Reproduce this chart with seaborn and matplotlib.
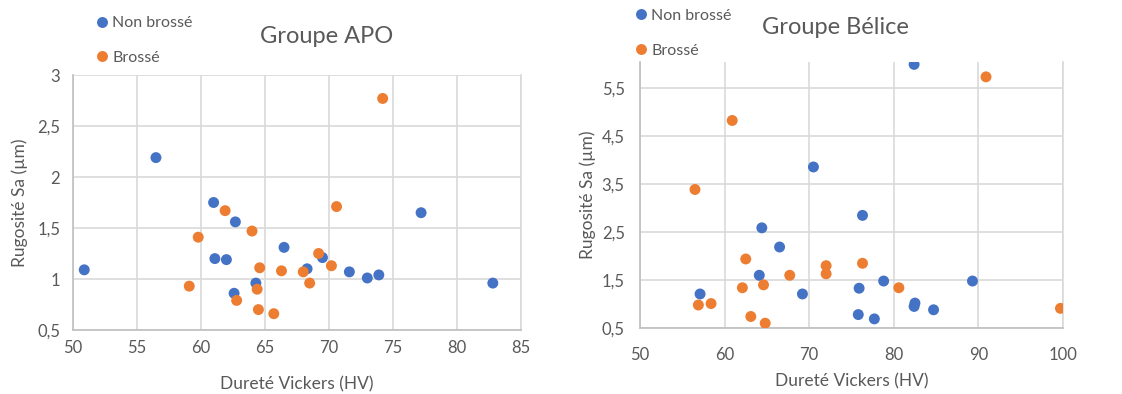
import matplotlib
matplotlib.use("Agg")
import matplotlib.pyplot as plt
import seaborn as sns
import pandas as pd

# ---------------- data ----------------
apo_non_x = [50.9, 56.5, 61.0, 62.7, 61.1, 62.0, 66.5, 64.3, 62.6, 68.3, 69.5, 71.6, 73.0, 73.9, 77.2, 82.8]
apo_non_y = [1.09, 2.19, 1.75, 1.56, 1.20, 1.19, 1.31, 0.96, 0.86, 1.10, 1.21, 1.07, 1.01, 1.04, 1.65, 0.96]
apo_br_x = [59.1, 59.8, 61.9, 64.0, 64.6, 64.4, 62.8, 64.5, 65.7, 66.3, 68.0, 68.5, 69.2, 70.2, 70.6, 74.2]
apo_br_y = [0.93, 1.41, 1.67, 1.47, 1.11, 0.90, 0.79, 0.70, 0.66, 1.08, 1.07, 0.96, 1.25, 1.13, 1.71, 2.77]

bel_non_x = [82.4, 70.5, 76.3, 64.4, 66.5, 64.1, 57.1, 69.2, 75.9, 78.8, 89.3, 75.8, 77.7, 82.5, 82.4, 84.7]
bel_non_y = [6.00, 3.86, 2.85, 2.59, 2.19, 1.60, 1.21, 1.21, 1.33, 1.48, 1.48, 0.78, 0.69, 1.02, 0.95, 0.88]
bel_br_x = [90.9, 60.9, 56.5, 62.5, 76.3, 72.0, 72.0, 67.7, 64.6, 62.1, 80.6, 56.9, 58.4, 63.1, 64.8, 99.7]
bel_br_y = [5.74, 4.83, 3.39, 1.94, 1.85, 1.80, 1.63, 1.60, 1.40, 1.34, 1.34, 0.98, 1.01, 0.74, 0.60, 0.91]

series_names = ["Non brossé", "Brossé"]
titles = ["Groupe APO", "Groupe Bélice"]
x_label = "Dureté Vickers (HV)"
y_label = "Rugosité Sa (µm)"

apo_xticks = [50, 55, 60, 65, 70, 75, 80, 85]
apo_yticks = [0.5, 1, 1.5, 2, 2.5, 3]
apo_yticklabels = ["0,5", "1", "1,5", "2", "2,5", "3"]
bel_xticks = [50, 60, 70, 80, 90, 100]
bel_yticks = [0.5, 1.5, 2.5, 3.5, 4.5, 5.5]
bel_yticklabels = ["0,5", "1,5", "2,5", "3,5", "4,5", "5,5"]

# ---------------- style ----------------
sns.set_theme(style="white")
plt.rcParams['font.family'] = ['Lato', 'DejaVu Sans']
TXT = "#595959"
GRID = "#d9d9d9"
palette = {series_names[0]: "#4472C4", series_names[1]: "#ED7D31"}


def make_df(nx, ny, bx, by):
    return pd.DataFrame({
        "x": list(nx) + list(bx),
        "y": list(ny) + list(by),
        "serie": [series_names[0]] * len(nx) + [series_names[1]] * len(bx),
    })


fig = plt.figure(figsize=(11.22, 3.94), dpi=100)
ax1 = fig.add_axes([72.7 / 1122, 1 - 330 / 394, 448.3 / 1122, 255 / 394])
ax2 = fig.add_axes([640 / 1122, 1 - 328 / 394, 423 / 1122, 266 / 394])

configs = [
    (ax1, titles[0], make_df(apo_non_x, apo_non_y, apo_br_x, apo_br_y), apo_xticks, apo_yticks, apo_yticklabels,
     (50, 85), (0.5, 3.0), (0.567, 1.15), (94 / 1122, 1 - 40.5 / 394), 7, 9),
    (ax2, titles[1], make_df(bel_non_x, bel_non_y, bel_br_x, bel_br_y), bel_xticks, bel_yticks, bel_yticklabels,
     (50, 100), (0.5, 6.05), (0.461, 1.128), (633 / 1122, 1 - 33 / 394), 14, 11),
]

for ax, title, df, xt, yt, ytl, xl, yl, tpos, lpos, xpad, ypad in configs:
    sns.scatterplot(data=df, x="x", y="y", hue="serie", palette=palette, s=62,
                    edgecolor="none", ax=ax, legend=True, zorder=3)
    ax.set_xlim(*xl)
    ax.set_ylim(*yl)
    ax.set_xticks(xt)
    ax.set_xticklabels([str(v) for v in xt])
    ax.set_yticks(yt)
    ax.set_yticklabels(ytl)
    ax.grid(True, color=GRID, linewidth=1.2)
    ax.set_axisbelow(True)
    ax.spines["top"].set_visible(False)
    ax.spines["right"].set_color(GRID)
    ax.spines["right"].set_linewidth(1.2)
    for side in ["left", "bottom"]:
        ax.spines[side].set_color("#bfbfbf")
        ax.spines[side].set_linewidth(1.2)
    ax.tick_params(axis="both", length=0, labelsize=12, labelcolor=TXT)
    ax.tick_params(axis="x", pad=xpad)
    ax.tick_params(axis="y", pad=ypad)
    ax.set_xlabel(x_label, fontsize=12.5, color=TXT)
    ax.set_ylabel(y_label, fontsize=12.5, color=TXT)
    ax.set_title(title, fontsize=17, color=TXT, x=tpos[0], y=tpos[1], va="center", pad=0)
    sns.move_legend(ax, loc="center left", bbox_to_anchor=lpos, bbox_transform=fig.transFigure,
                    title=None, frameon=False, fontsize=11.5, labelspacing=1.3,
                    handlelength=1.0, handletextpad=0.15, borderpad=0, borderaxespad=0,
                    markerscale=1.0)
    for t in ax.get_legend().get_texts():
        t.set_color(TXT)

ax1.xaxis.set_label_coords(0.5, -0.18)
ax1.yaxis.set_label_coords(-0.10, 0.5)
ax2.xaxis.set_label_coords(0.5, -0.17)
ax2.yaxis.set_label_coords(-0.104, 0.5)

fig.savefig("out.png", dpi=100, facecolor="white")
